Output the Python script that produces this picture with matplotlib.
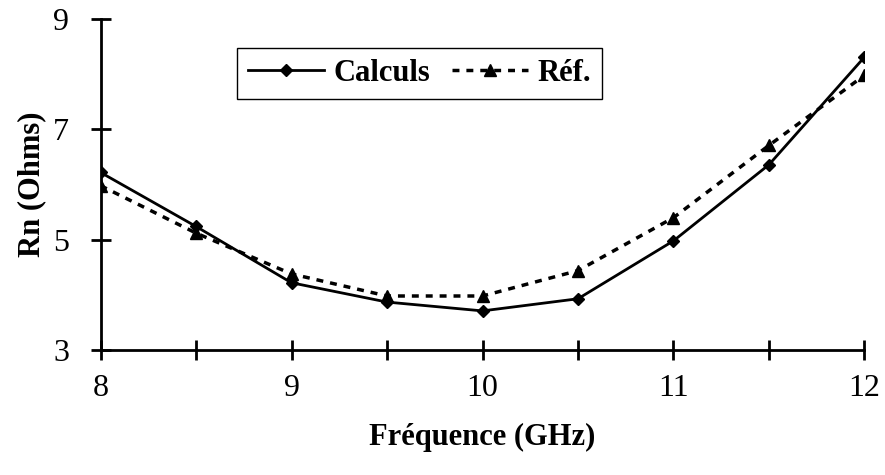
import numpy as np
import matplotlib
matplotlib.use('Agg')
from matplotlib import pyplot as plt

plt.rcParams['font.family'] = ['Liberation Serif', 'DejaVu Serif']

# data
freq = [8, 8.5, 9, 9.5, 10, 10.5, 11, 11.5, 12]
calculs = [6.22, 5.24, 4.22, 3.87, 3.71, 3.93, 4.98, 6.36, 8.31]
ref = [5.98, 5.12, 4.38, 3.98, 3.98, 4.44, 5.40, 6.71, 7.98]

fig = plt.figure(figsize=(8.85, 4.75), dpi=100)
ax = fig.add_axes([0.1136, 0.263, 0.8632, 0.697])

ax.plot(freq, calculs, color='black', lw=2, marker='D', ms=6, label='Calculs')
ax.plot(freq, ref, color='black', lw=2.5, ls=(0, (2, 2)), marker='^', ms=8,
        label='Réf.')

ax.set_xlim(8, 12)
ax.set_ylim(3, 9)
ax.set_xticks(np.arange(8, 12.1, 0.5))
ax.set_xticklabels(['8', '', '9', '', '10', '', '11', '', '12'])
ax.set_yticks([3, 5, 7, 9])

ax.spines['top'].set_visible(False)
ax.spines['right'].set_visible(False)
ax.spines['left'].set_linewidth(2)
ax.spines['bottom'].set_linewidth(2)
ax.tick_params(direction='inout', length=15, width=2, labelsize=23)
ax.tick_params(axis='y', pad=15)
ax.tick_params(axis='x', pad=10)

ax.set_xlabel('Fréquence (GHz)', fontsize=22, fontweight='bold', labelpad=14)
ax.set_ylabel('Rn (Ohms)', fontsize=22, fontweight='bold', labelpad=5)

leg = ax.legend(loc='upper left', bbox_to_anchor=(0.179, 0.912), ncol=2,
                fancybox=False, framealpha=1, edgecolor='black',
                prop={'weight': 'bold', 'size': 22}, handlelength=2.5,
                handletextpad=0.3, columnspacing=0.7, borderpad=0.35,
                borderaxespad=0)
leg.get_frame().set_linewidth(1)

fig.savefig('out.png', dpi=100)
